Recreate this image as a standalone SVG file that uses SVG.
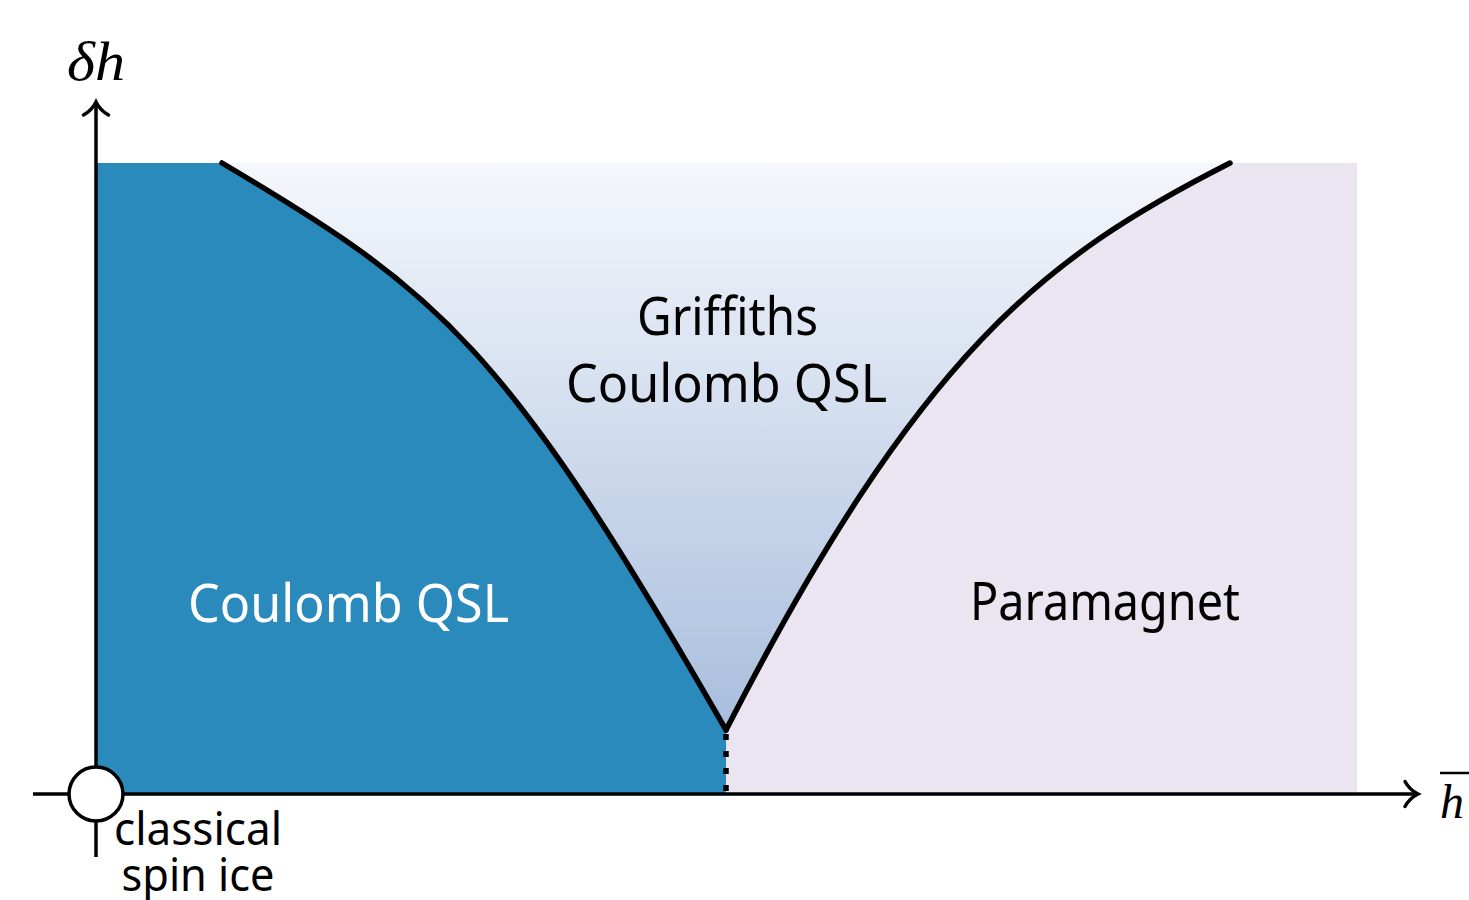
<svg xmlns="http://www.w3.org/2000/svg" width="1469" height="900" viewBox="0 0 1469 900">
  <style>
    .lbl { font-family: "Noto Sans", "Open Sans", sans-serif; font-size: 52px; text-anchor: start; }
    .small { font-family: "Noto Sans", "Open Sans", sans-serif; font-size: 46px; }
    .math { font-family: "Liberation Serif", "DejaVu Serif", serif; font-style: italic; }
    .axis { stroke: #000; stroke-width: 3.5; fill: none; }
    .bound { stroke: #000; stroke-width: 5.5; fill: none; stroke-linecap: round; }
  </style>
  <defs>
    <linearGradient id="grif" gradientUnits="userSpaceOnUse" x1="0" y1="163" x2="0" y2="730">
      <stop offset="0" stop-color="#f5f7fc"/>
      <stop offset="1" stop-color="#a8bedd"/>
    </linearGradient>
    <marker id="arr" viewBox="-16 -16 20 32" refX="0" refY="0" markerWidth="20" markerHeight="32" markerUnits="userSpaceOnUse" orient="auto" overflow="visible">
      <path d="M -13,-12.5 C -10,-7 -4,-2 0,0 C -4,2 -10,7 -13,12.5" fill="none" stroke="#000" stroke-width="3.5" stroke-linecap="round"/>
    </marker>
  </defs>

  <g id="coulomb-qsl">
    <path d="M96,163 L222,163 C 440,292 505,345 726,730 L726,794 L96,794 Z" fill="#2b8abc"/>
    <text class="lbl" x="188" y="622" fill="#ffffff" textLength="321" lengthAdjust="spacingAndGlyphs">Coulomb QSL</text>
  </g>
  <g id="griffiths">
    <path d="M222,163 L1230,163 C 1043,258 920,352 726,730 C 505,345 440,292 222,163 Z" fill="url(#grif)"/>
    <text class="lbl" x="637" y="335" fill="#000" textLength="181" lengthAdjust="spacingAndGlyphs">Griffiths</text>
    <text class="lbl" x="566" y="402" fill="#000" textLength="321" lengthAdjust="spacingAndGlyphs">Coulomb QSL</text>
  </g>
  <g id="paramagnet">
    <path d="M1230,163 L1357,163 L1357,794 L726,794 L726,730 C 920,352 1043,258 1230,163 Z" fill="#ebe5f1"/>
    <text class="lbl" x="970" y="620" fill="#000" textLength="270" lengthAdjust="spacingAndGlyphs">Paramagnet</text>
  </g>

  <g id="connectors">
    <path class="bound" d="M222,163 C 440,292 505,345 726,730"/>
    <path class="bound" d="M726,730 C 920,352 1043,258 1230,163"/>
    <line x1="726" y1="734" x2="726" y2="794" stroke="#000" stroke-width="5.5" stroke-dasharray="6 11"/>
    <line class="axis" x1="96" y1="857" x2="96" y2="102" marker-end="url(#arr)"/>
    <line class="axis" x1="33" y1="794" x2="1418" y2="794" marker-end="url(#arr)"/>
  </g>

  <g id="classical-spin-ice">
    <circle cx="96" cy="794" r="27" fill="#ffffff" stroke="#000" stroke-width="3.5"/>
    <text class="small" x="198" y="845" text-anchor="middle" fill="#000" textLength="168" lengthAdjust="spacingAndGlyphs">classical</text>
    <text class="small" x="198" y="891" text-anchor="middle" fill="#000" textLength="153" lengthAdjust="spacingAndGlyphs">spin ice</text>
  </g>

  <g id="axis-labels">
    <text class="math" x="67" y="80" font-size="54" fill="#000" textLength="58" lengthAdjust="spacingAndGlyphs">δh</text>
    <text class="math" x="1440" y="818" font-size="48" fill="#000">h</text>
    <line x1="1440" y1="773" x2="1469" y2="773" stroke="#000" stroke-width="2.5"/>
  </g>
</svg>
